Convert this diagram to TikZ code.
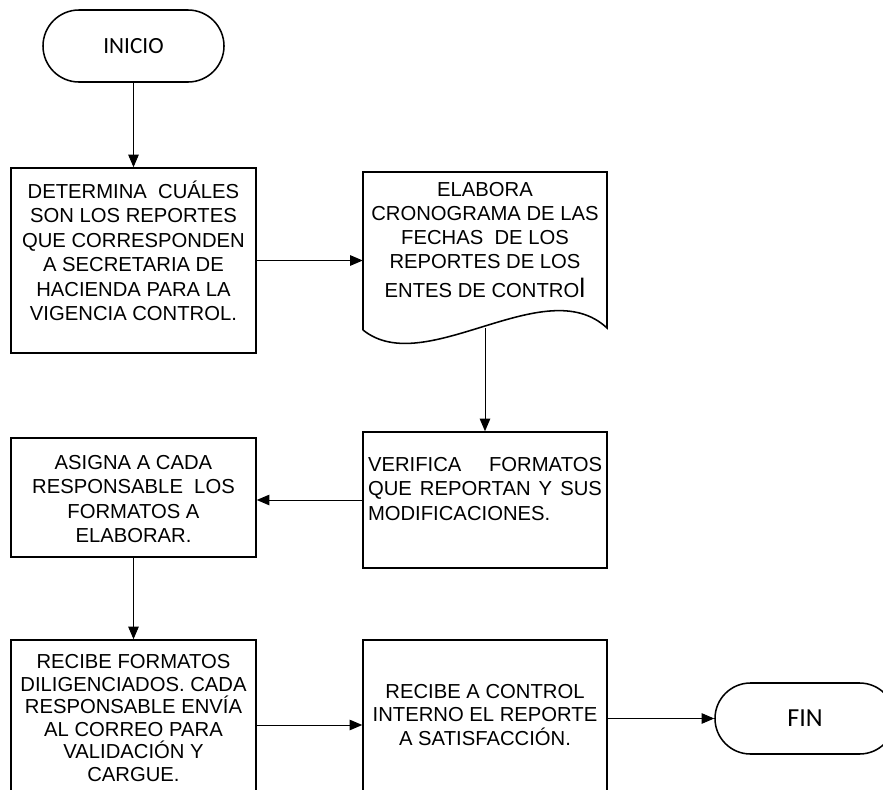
\documentclass[tikz,border=0pt]{standalone}
\usepackage{fontspec}
\newfontfamily\boxfont{Liberation Sans}
\newfontfamily\termfont{Carlito}
\usetikzlibrary{arrows.meta,shapes.misc}
\begin{document}
\begin{tikzpicture}[x=0.025cm,y=-0.025cm,
  stepbox/.style={draw,line width=1.1pt,rectangle,inner sep=0pt},
  terminal/.style={draw,line width=1.1pt,rounded rectangle,inner sep=0pt},
  boxtext/.style={align=center,inner sep=0pt,font=\boxfont\fontsize{14.4}{#1}\selectfont},
  boxtext/.default=17.4pt,
  arr/.style={line width=0.7pt,-{Triangle[length=9pt,width=7.5pt]}}]
\useasboundingbox (0,0) rectangle (883,790);
\clip (0,0) rectangle (883,790);

% terminals
\node[terminal,minimum width=181*0.025cm,minimum height=72*0.025cm,
      font=\termfont\fontsize{16.5}{20}\selectfont] (inicio) at (133.5,46) {INICIO};
\node[terminal,minimum width=180*0.025cm,minimum height=71*0.025cm,
      font=\termfont\fontsize{18.5}{22}\selectfont] (fin) at (805,718.5) {FIN};

% process boxes
\node[stepbox,minimum width=245*0.025cm,minimum height=185*0.025cm] (b1) at (133.5,260.5) {};
\node[stepbox,minimum width=244*0.025cm,minimum height=136*0.025cm] (b3) at (485,500) {};
\node[stepbox,minimum width=245*0.025cm,minimum height=119*0.025cm] (b4) at (133.5,497.5) {};
\node[stepbox,minimum width=245*0.025cm,minimum height=170*0.025cm] (b5) at (133.5,725) {};
\node[stepbox,minimum width=244*0.025cm,minimum height=170*0.025cm] (b6) at (485,725) {};

% document shape with wavy bottom
\node[inner sep=0pt,minimum width=244*0.025cm,minimum height=158*0.025cm] (doc) at (485,251) {};
\draw[line width=1.1pt,line join=miter] (363,330) -- (363,172) -- (607,172) -- (607,328)
  .. controls (545,270) and (425,380) .. (363,330);
\coordinate (docb) at (485,328);

% texts
\node[boxtext=17.4pt] (t1) at (133.5,251) {DETERMINA\ \ CUÁLES\\SON LOS REPORTES\\QUE CORRESPONDEN\\A SECRETARIA DE\\HACIENDA PARA LA\\VIGENCIA CONTROL.};
\node[boxtext=17pt] (t2) at (485,240) {ELABORA\\CRONOGRAMA DE LAS\\FECHAS\ \ DE LOS\\REPORTES DE LOS\\[3.5pt]ENTES DE CONTRO{\fontsize{19}{19}\selectfont l}};
\node[boxtext,align=left] (t3) at (485,489) {\parbox{234\dimexpr0.025cm\relax}{\baselineskip=17.7pt
  VERIFICA\hfill FORMATOS\\QUE\hfill REPORTAN\hfill Y\hfill SUS\\MODIFICACIONES.}};
\node[boxtext=17.2pt] (t4) at (133.5,499) {ASIGNA A CADA\\RESPONSABLE\ \ LOS\\FORMATOS A\\ELABORAR.};
\node[boxtext=16pt] (t5) at (133.5,718) {RECIBE FORMATOS\\DILIGENCIADOS. CADA\\RESPONSABLE ENVÍA\\AL CORREO PARA\\VALIDACIÓN Y\\CARGUE.};
\node[boxtext=16.7pt] (t6) at (485,715) {RECIBE A CONTROL\\INTERNO EL REPORTE\\A SATISFACCIÓN.};

% connectors
\draw[arr] (inicio) -- (b1);
\draw[arr] (b1.east) -- (b1.east -| doc.west);
\draw[arr] (docb) -- (b3);
\draw[arr] (b3.west) -- (b3.west -| b4.east);
\draw[arr] (b4) -- (b5);
\draw[arr] (b5.east) -- (b5.east -| b6.west);
\draw[arr] (b6.east |- fin) -- (fin);
\end{tikzpicture}
\end{document}
